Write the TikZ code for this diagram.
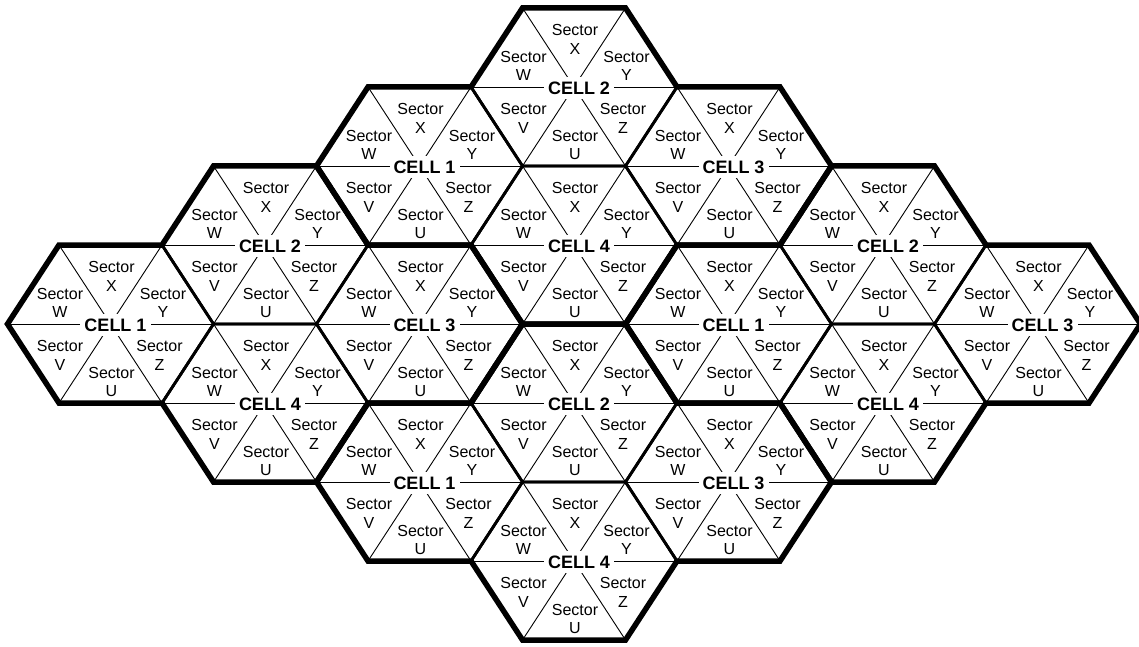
\documentclass[tikz,border=0pt]{standalone}
\usepackage{fontspec}
\setmainfont{Liberation Sans}
\tikzset{
 sectorline/.style={line width=0.9pt},
 hexline/.style={line width=2.8pt, line join=miter},
 clusterline/.style={line width=5.5pt, line join=miter},
 celllabel/.style={fill=white, inner xsep=4pt, inner ysep=4.5pt, font=\fontsize{18}{20}\selectfont\bfseries},
 sectorlabel/.style={align=center, inner sep=0pt, font=\fontsize{16}{18.3}\selectfont},
}
\newcommand\hexcell[3]{%
 \begin{scope}[shift={({110.5+154.5*#1},{87+79*#2})}]
  \draw[sectorline] (-103,0) -- (103,0);
  \draw[sectorline] (-51.5,-79) -- (51.5,79);
  \draw[sectorline] (51.5,-79) -- (-51.5,79);
  \node[celllabel] (cell#1#2) at (5,1) {CELL #3};
  \node[sectorlabel] (sec#1#2X) at (1,-47.7) {Sector\\X};
  \node[sectorlabel] (sec#1#2W) at (-50.5,-21.3) {Sector\\W};
  \node[sectorlabel] (sec#1#2Y) at (52.5,-21.3) {Sector\\Y};
  \node[sectorlabel] (sec#1#2V) at (-50.5,31.3) {Sector\\V};
  \node[sectorlabel] (sec#1#2Z) at (49,31.3) {Sector\\Z};
  \node[sectorlabel] (sec#1#2U) at (1,57.7) {Sector\\U};
  \draw[hexline] (-103,0) -- (-51.5,-79) -- (51.5,-79) -- (103,0) -- (51.5,79) -- (-51.5,79) -- cycle;
 \end{scope}}
\newcommand\clusteroutline[2]{%
 \begin{scope}[shift={({110.5+154.5*#1},{87+79*#2})}]
  \draw[clusterline] (-103,0) -- (-51.5,-79) -- (51.5,-79) -- (103,-158) -- (206,-158)
    -- (257.5,-79) -- (360.5,-79) -- (412,0) -- (360.5,79) -- (257.5,79) -- (206,158)
    -- (103,158) -- (51.5,79) -- (-51.5,79) -- cycle;
 \end{scope}}
\begin{document}
\begin{tikzpicture}[x=1pt,y=-1pt]
\useasboundingbox (0,0) rectangle (1139,647);
\foreach \c/\j/\n in {0/3/1, 1/2/2, 1/4/4, 2/1/1, 2/3/3, 2/5/1, 3/0/2, 3/2/4,
  3/4/2, 3/6/4, 4/1/3, 4/3/1, 4/5/3, 5/2/2, 5/4/4, 6/3/3} {
  \hexcell{\c}{\j}{\n}
}
\clusteroutline{0}{3}
\clusteroutline{2}{1}
\clusteroutline{4}{3}
\clusteroutline{2}{5}
\end{tikzpicture}
\end{document}
